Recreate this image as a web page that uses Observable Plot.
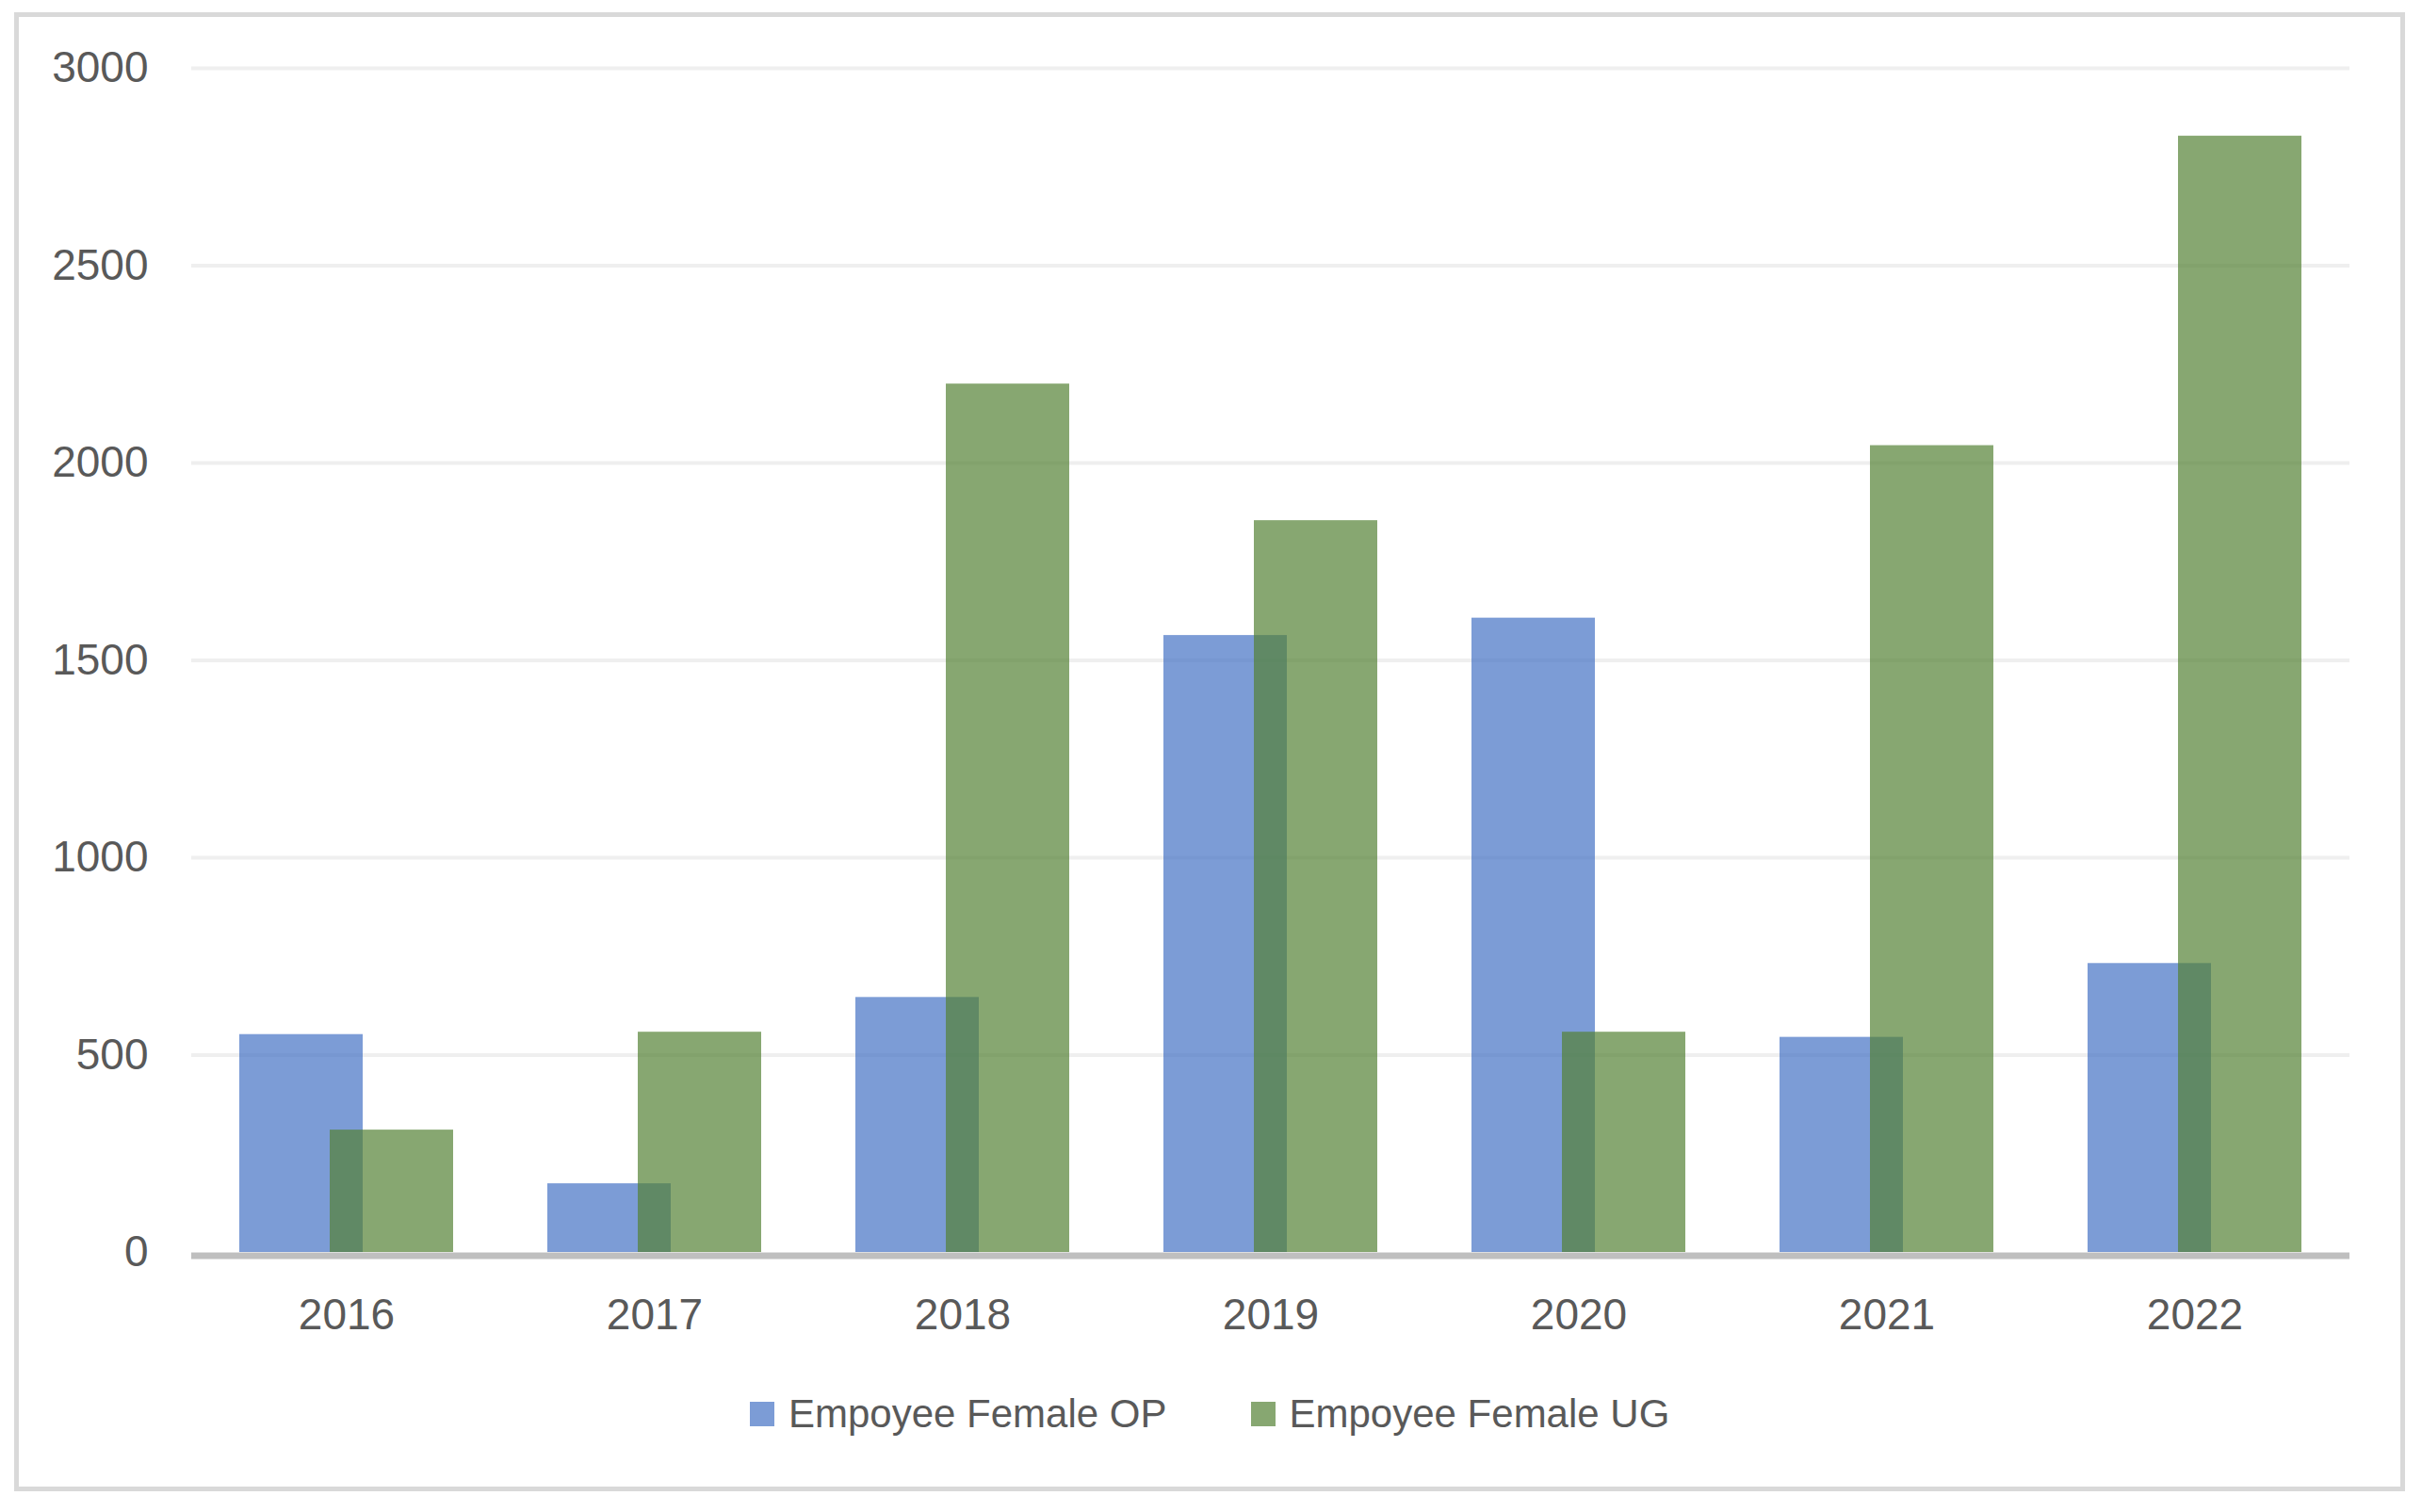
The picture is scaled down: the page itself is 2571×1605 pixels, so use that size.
<!DOCTYPE html>
<html>
<head>
<meta charset="utf-8">
<script src="https://cdn.jsdelivr.net/npm/d3@7"></script>
<script src="https://cdn.jsdelivr.net/npm/@observablehq/plot@0.6"></script>
<style>
  html, body { margin: 0; padding: 0; background: #ffffff; }
  #frame { position: relative; width: 2571px; height: 1605px; background: #ffffff; overflow: hidden; }
  #border { position: absolute; left: 15px; top: 13px; width: 2528px; height: 1560px; border: 5px solid #d9d9d9; }
  #chart { position: absolute; left: 0; top: 0; }
  #legend { position: absolute; left: 796px; top: 1480px; display: flex; align-items: center;
            font-family: 'Liberation Sans', Arial, sans-serif; font-size: 42px; line-height: 42px; color: #595959; white-space: nowrap; }
  .item { display: flex; align-items: center; }
  .swatch { width: 26px; height: 26px; margin-right: 15px; }
</style>
</head>
<body>
<div id="frame">
  <div id="border"></div>
  <div id="chart"></div>
  <div id="legend"></div>
</div>
<script>
const years = ["2016", "2017", "2018", "2019", "2020", "2021", "2022"];
const opValues = [552, 174, 646, 1563, 1607, 545, 732];
const ugValues = [310, 558, 2200, 1854, 558, 2044, 2828];
const yTicks = [0, 500, 1000, 1500, 2000, 2500, 3000];
const seriesNames = ["Empoyee Female OP", "Empoyee Female UG"];
const seriesColors = ["#4472C4", "#548235"];

const opData = years.map((year, i) => ({year, series: seriesNames[0], value: opValues[i]}));
const ugData = years.map((year, i) => ({year, series: seriesNames[1], value: ugValues[i]}));

const chart = Plot.plot({
  width: 2571,
  height: 1440,
  marginLeft: 203,
  marginRight: 77,
  marginTop: 72,
  marginBottom: 111,
  style: {fontFamily: "'Liberation Sans', Arial, sans-serif", fontSize: "46px", color: "#595959", background: "transparent"},
  x: {domain: years, paddingInner: 0.6, paddingOuter: 0.3, label: null},
  y: {domain: [0, 3000], label: null},
  color: {domain: seriesNames, range: seriesColors},
  marks: [
    Plot.ruleY(yTicks.filter(d => d > 0), {stroke: "#efefef", strokeWidth: 4}),
    Plot.barY(opData, {x: "year", y: "value", fill: "series", fillOpacity: 0.7, dx: -48}),
    Plot.barY(ugData, {x: "year", y: "value", fill: "series", fillOpacity: 0.7, dx: 48}),
    Plot.ruleY([0], {stroke: "#bfbfbf", strokeWidth: 7, dy: 3.5}),
    Plot.axisY({ticks: yTicks, tickSize: 0, tickPadding: 46, fontSize: 46, fill: "#595959", tickFormat: d => String(d), label: null}),
    Plot.axisX({tickSize: 0, tickPadding: 49, fontSize: 46, fill: "#595959", label: null})
  ]
});
document.getElementById("chart").appendChild(chart);

const legend = document.getElementById("legend");
seriesNames.forEach((name, i) => {
  const item = document.createElement("div");
  item.className = "item";
  if (i > 0) item.style.marginLeft = "89px";
  const sw = document.createElement("div");
  sw.className = "swatch";
  sw.style.background = seriesColors[i];
  sw.style.opacity = 0.7;
  const label = document.createElement("span");
  label.textContent = name;
  item.appendChild(sw);
  item.appendChild(label);
  legend.appendChild(item);
});
</script>
</body>
</html>
